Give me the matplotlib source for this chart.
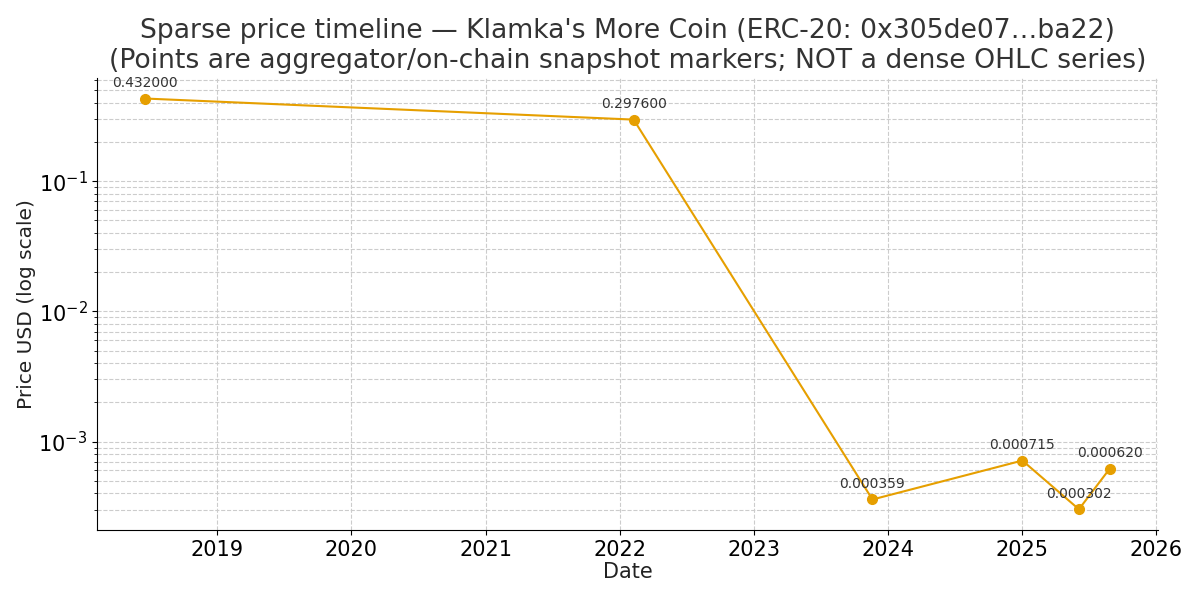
import pandas as pd
import matplotlib.pyplot as plt
import matplotlib.dates as mdates

dates = ["2018-06-20", "2022-02-08", "2023-11-20", "2025-01-01", "2025-06-04", "2025-08-27"]
prices = [0.432, 0.2976, 0.000359, 0.000715, 0.000302, 0.000620]

df = pd.DataFrame({"date": pd.to_datetime(dates), "price": prices})

fig, ax = plt.subplots(figsize=(12, 6), dpi=100)
ax.plot(df["date"], df["price"], marker="o", color="#E69F00", lw=1.5, ms=7)
ax.set_yscale("log")

for d, p in zip(df["date"], df["price"]):
    ax.annotate(f"{p:.6f}", (d, p), textcoords="offset points", xytext=(0, 8),
                ha="center", fontsize=10, color="#333333")

ax.set_title("Sparse price timeline — Klamka's More Coin (ERC-20: 0x305de07…ba22)\n"
             "(Points are aggregator/on-chain snapshot markers; NOT a dense OHLC series)",
             fontsize=19.2, color="#333333", pad=7)
ax.set_xlabel("Date", fontsize=15, color="#222222", labelpad=2)
ax.set_ylabel("Price USD (log scale)", fontsize=14.5, color="#222222", labelpad=2)
ax.tick_params(labelsize=15)
ax.xaxis.set_major_locator(mdates.YearLocator())
ax.xaxis.set_major_formatter(mdates.DateFormatter("%Y"))
ax.grid(True, which="both", ls="--", color="#cccccc", lw=0.8)
ax.spines["top"].set_visible(False)
ax.spines["right"].set_visible(False)

fig.subplots_adjust(left=0.081, right=0.965, top=0.87, bottom=0.117)
fig.savefig("out.png")
